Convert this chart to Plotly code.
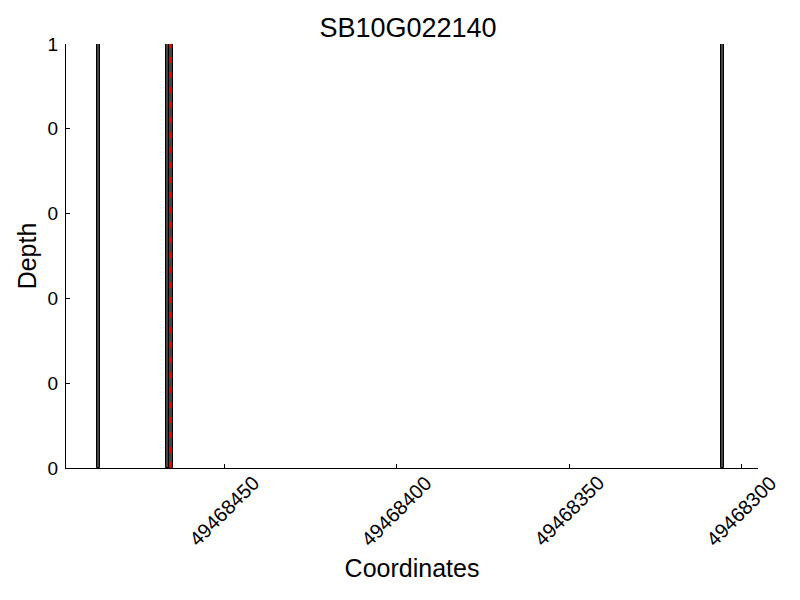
import plotly.graph_objects as go

# Data
positions = [49468486, 49468466, 49468465, 49468305]   # left edge of each 1-bp bin
depths = [1, 1, 1, 1]
marker_pos = 49468465.6                                   # red dashed marker
x_ticks = [49468450, 49468400, 49468350, 49468300]
x_tick_labels = ["49468450", "49468400", "49468350", "49468300"]
y_ticks = [0, 0.2, 0.4, 0.6, 0.8, 1.0]
y_tick_labels = ["0", "0", "0", "0", "0", "1"]
x_range = [49468495.9, 49468295.2]

font = "Liberation Sans, Arial, sans-serif"

fig = go.Figure()
fig.add_trace(go.Bar(
    x=positions, y=depths, width=[1] * len(positions), offset=0,
    marker=dict(color="#444444", line=dict(color="black", width=1)),
    showlegend=False,
))
fig.add_trace(go.Scatter(
    x=[marker_pos, marker_pos], y=[0, 1], mode="lines",
    line=dict(color="red", width=2, dash="6px,9px"), showlegend=False,
))

# rotated x tick labels centred under their ticks
for v, t in zip(x_ticks, x_tick_labels):
    fig.add_annotation(x=v, y=-0.102, xref="x", yref="paper", text=t,
                       textangle=-45, showarrow=False, xanchor="center", yanchor="middle",
                       font=dict(family=font, size=20, color="black"))

fig.update_layout(
    width=800, height=600,
    margin=dict(l=58, r=50, t=36, b=140, autoexpand=False),
    paper_bgcolor="white", plot_bgcolor="white",
    bargap=0,
    font=dict(family=font, size=20, color="black"),
    title=dict(text="SB10G022140", x=0.5, xanchor="center", y=0.967, yanchor="middle",
               font=dict(family=font, size=27, color="black")),
)
fig.update_xaxes(
    range=x_range, showgrid=False, zeroline=False, automargin=False,
    showline=True, linecolor="black", linewidth=1,
    tickmode="array", tickvals=x_ticks, showticklabels=False,
    ticks="inside", ticklen=4, tickcolor="black",
    title=dict(text="Coordinates", font=dict(family=font, size=25, color="black"), standoff=91),
)
fig.update_yaxes(
    range=[0, 1], showgrid=False, zeroline=False, automargin=False,
    showline=True, linecolor="black", linewidth=1,
    tickmode="array", tickvals=y_ticks, ticktext=y_tick_labels,
    ticks="inside", ticklen=4, tickcolor="black", ticklabelstandoff=3,
    tickfont=dict(family=font, size=19, color="black"),
    title=dict(text="Depth", font=dict(family=font, size=25, color="black"), standoff=3),
)

fig.write_html("out.html")
